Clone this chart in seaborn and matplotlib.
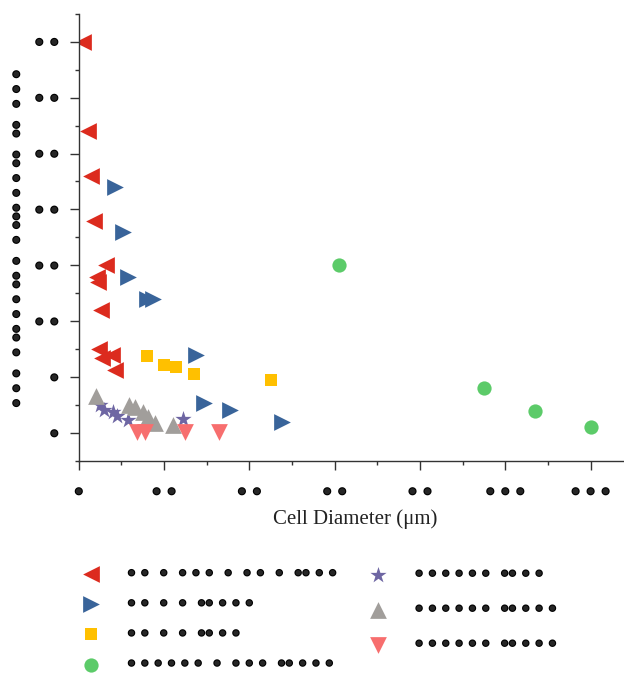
import pandas as pd
import seaborn as sns
import matplotlib.pyplot as plt
from matplotlib import patheffects

# series values (x = cell diameter, y = value)
red_x = [1.1, 2.1, 2.8, 3.6, 6.4, 4.3, 4.6, 5.1, 4.7, 5.4, 7.8, 8.6]
red_y = [35.0, 27.0, 23.0, 19.0, 15.0, 14.0, 13.5, 11.0, 7.5, 6.7, 7.0, 5.6]
blue_x = [8.5, 10.4, 11.5, 15.9, 17.5, 27.5, 29.4, 35.5, 47.6]
blue_y = [22.0, 18.0, 14.0, 12.0, 12.0, 7.0, 2.7, 2.1, 1.0]
yellow_x = [16.0, 20.0, 22.9, 27.0, 45.0]
yellow_y = [6.9, 6.1, 5.9, 5.3, 4.7]
green_x = [61.0, 95.0, 107.0, 120.0]
green_y = [15.0, 4.0, 2.0, 0.5]
star_x = [5.0, 6.0, 8.1, 9.0, 11.6, 24.4]
star_y = [2.5, 2.1, 1.85, 1.5, 1.2, 1.3]
grey_x = [4.0, 11.8, 13.2, 15.1, 16.2, 17.9, 22.0]
grey_y = [3.3, 2.5, 2.35, 1.9, 1.45, 0.9, 0.7]
pink_x = [13.6, 15.5, 24.9, 32.9]
pink_y = [0.05, 0.05, 0.05, 0.05]

# legend labels (placeholder bullets as in the reference)
labels = ["• •  •  • • •  •  • •  •  •• • •",
          "• •  •  •  •• • • •",
          "• •  •  •  •• • •",
          "• • • • • •  •  • • •  •• • • •",
          "• • • • • •  •• • •",
          "• • • • • •  •• • • •",
          "• • • • • •  •• • • •"]

xticks = [0, 20, 40, 60, 80, 100, 120]
xtick_labels = ["•", "• •", "• •", "• •", "• •", "• • •", "• • •"]
yticks = [0, 5, 10, 15, 20, 25, 30, 35]
ytick_labels = ["•", "•", "• •", "• •", "• •", "• •", "• •", "• •"]
ylabel = "• • •  • •• • • •• •  • ••• • • ••  ••  • • •"

series = [(red_x, red_y, "#DC2B1E", "<", 145),
          (blue_x, blue_y, "#39649A", ">", 145),
          (yellow_x, yellow_y, "#FFC000", "s", 85),
          (green_x, green_y, "#5CCB69", "o", 105),
          (star_x, star_y, "#6E66A3", "*", 150),
          (grey_x, grey_y, "#A19E9B", "^", 145),
          (pink_x, pink_y, "#F76E6E", "v", 145)]

sns.set_style("ticks")
plt.rcParams['font.family'] = ['Liberation Serif', 'DejaVu Sans']
bold_dots = [patheffects.withStroke(linewidth=1.6, foreground='black')]

fig = plt.figure(figsize=(6.24, 6.75), dpi=100)
ax = fig.add_axes([78.8/624, 1-461/675, 130*4.265/624, (461-13.75)/675])

handles = []
for (xs, ys, col, mk, s), lab in zip(series, labels):
    df = pd.DataFrame({'x': xs, 'y': ys})
    sns.scatterplot(data=df, x='x', y='y', ax=ax, color=col, marker=mk, s=s,
                    linewidth=0, label=lab, legend=False)
    handles.append(ax.collections[-1])

ax.set_xlim(0, 130)
ax.set_ylim(-2.5, 37.5)
ax.set_xticks(xticks)
ax.set_xticklabels(xtick_labels, fontsize=18)
ax.set_yticks(yticks)
ax.set_yticklabels(ytick_labels, fontsize=18)
ax.set_xticks(range(10, 130, 20), minor=True)
ax.set_yticks([-2.5 + 5*i for i in range(9)], minor=True)
ax.tick_params(which='major', length=6.5, width=1, color='#333333', pad=9)
ax.tick_params(axis='y', which='major', pad=8)
ax.tick_params(which='minor', length=3, width=1, color='#333333')
for t in ax.get_xticklabels() + ax.get_yticklabels():
    t.set_path_effects(bold_dots)
for side in ['top', 'right']:
    ax.spines[side].set_visible(False)
for side in ['left', 'bottom']:
    ax.spines[side].set_linewidth(1)
    ax.spines[side].set_color('#333333')

ax.set_xlabel("Cell Diameter (μm)", fontsize=15, color='#222222')
ax.xaxis.set_label_coords(0.498, -0.108)
ax.set_ylabel(ylabel, fontsize=17.8, path_effects=bold_dots)
ax.yaxis.set_label_coords(-0.089, 0.498)

leg1 = fig.legend(handles[:4], labels[:4], loc='upper left',
                  bbox_to_anchor=(79.6/624, 1-564.5/675), frameon=False,
                  fontsize=16, handlelength=1.0, handletextpad=1.16,
                  borderpad=0, labelspacing=0.43, borderaxespad=0)
leg2 = fig.legend(handles[4:], labels[4:], loc='upper left',
                  bbox_to_anchor=(367.2/624, 1-565/675), frameon=False,
                  fontsize=16, handlelength=1.0, handletextpad=1.16,
                  borderpad=0, labelspacing=0.65, borderaxespad=0)
for leg in [leg1, leg2]:
    for t in leg.get_texts():
        t.set_path_effects(bold_dots)

fig.savefig("out.png", dpi=100)
